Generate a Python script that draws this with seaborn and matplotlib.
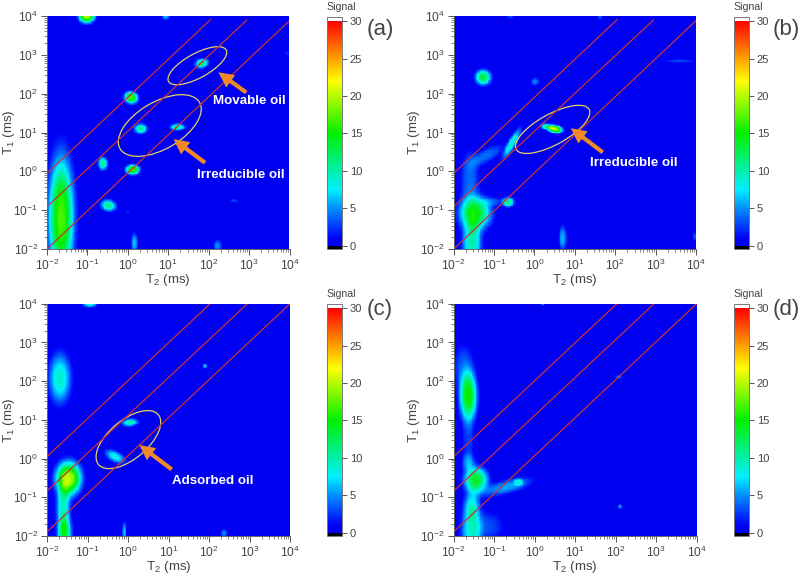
import numpy as np
import matplotlib
matplotlib.use("Agg")
import matplotlib.pyplot as plt
from matplotlib.colors import LinearSegmentedColormap
from matplotlib.patches import Ellipse
from matplotlib.transforms import Affine2D
import seaborn as sns

# T2-T1 maps: each peak is (log10 T2, log10 T1, spread along, spread across, height, tilt deg)
peaks_a = [
    (-1.65, -1.2, 0.16, 0.8, 17, 0), (-1.02, 4.0, 0.1, 0.09, 20, 0), (0.94, 3.98, 0.05, 0.04, 6, 0),
    (1.83, 2.78, 0.085, 0.06, 12, 15), (0.08, 1.9, 0.085, 0.075, 17, -20), (0.32, 1.1, 0.08, 0.065, 11, 0),
    (1.23, 1.14, 0.09, 0.045, 11, 0), (-0.62, 0.2, 0.06, 0.085, 11, 0), (0.12, 0.04, 0.085, 0.065, 17, 0),
    (-0.48, -0.88, 0.095, 0.075, 11, -15), (0.0, -1.04, 0.03, 0.03, 2.2, 0), (0.16, -1.85, 0.04, 0.13, 6.5, 0),
    (2.22, -1.92, 0.05, 0.08, 5, 0), (2.63, -0.76, 0.05, 0.03, 3, 0), (3.95, 3.04, 0.03, 0.03, 2.5, 0),
]
peaks_b = [
    (-1.27, 2.42, 0.1, 0.1, 13, 0), (0.01, 2.31, 0.05, 0.055, 4.5, 0), (0.85, 2.57, 0.02, 0.02, 2, 0),
    (3.6, 2.84, 0.2, 0.02, 3, 0), (-0.6, 3.98, 0.05, 0.03, 3, 0), (1.62, 3.97, 0.025, 0.03, 4, 0),
    (0.30, 1.15, 0.08, 0.04, 10, -10), (0.51, 1.09, 0.09, 0.05, 20, -10), (-0.56, 0.72, 0.22, 0.05, 9, 62),
    (-1.2, 0.4, 0.25, 0.09, 4, 30), (-1.6, -0.25, 0.12, 0.4, 4, 0), (-1.47, -1.08, 0.2, 0.22, 14, 0),
    (-1.55, -1.85, 0.12, 0.3, 10, 0), (-0.65, -0.79, 0.075, 0.065, 11, 0), (-1.05, -0.78, 0.15, 0.06, 3, 0),
    (0.7, -1.72, 0.05, 0.16, 6, 0), (3.97, -1.68, 0.03, 0.06, 3.5, 0),
]
peaks_c = [
    (-0.94, 3.99, 0.09, 0.04, 9, 0), (-1.68, 2.07, 0.14, 0.33, 9, 0), (-1.47, -0.51, 0.16, 0.22, 20, 0),
    (-1.6, -1.25, 0.09, 0.3, 9, 0), (-1.57, -1.95, 0.09, 0.22, 13, 0), (0.05, 0.93, 0.1, 0.05, 10, 5),
    (-0.32, 0.05, 0.14, 0.07, 8, -30), (1.9, 2.39, 0.03, 0.03, 7, 0), (2.29, -0.38, 0.02, 0.02, 3, 0),
    (-0.09, -1.89, 0.025, 0.13, 6, 0), (2.37, -1.93, 0.04, 0.06, 5, 0),
]
peaks_d = [
    (-1.64, 1.6, 0.11, 0.33, 15, 0), (-1.76, 2.37, 0.13, 0.3, 3.5, 0), (-1.64, 0.48, 0.08, 0.3, 2.5, 0),
    (-1.64, -0.1, 0.08, 0.12, 5, 0), (-1.45, -0.55, 0.15, 0.17, 14, 0), (-0.69, -0.73, 0.33, 0.09, 5.5, 15),
    (-0.4, -0.61, 0.06, 0.05, 5, 0), (-1.55, -1.2, 0.1, 0.2, 6, 0), (-1.56, -1.85, 0.13, 0.35, 8.5, 0),
    (-1.15, -1.75, 0.2, 0.2, 3, 0), (0.2, 4.0, 0.025, 0.025, 7, 0), (2.07, 2.11, 0.05, 0.03, 4, 0),
    (2.11, -1.24, 0.03, 0.03, 6, 0), (1.04, -0.94, 0.02, 0.02, 1, 0),
]

# Diagonal guide lines: (T2 start, T1 start, T2 end, T1 end) in decades
lines_top = [(-2, -0.05, 2.05, 3.91), (-2, -0.91, 2.95, 3.90), (-2, -2.0, 4.0, 3.88)]
lines_bottom = [(-2, 0.05, 2.03, 4.0), (-2, -0.84, 2.95, 4.0), (-2, -1.89, 4.0, 4.0)]

# Ellipses: (centre T2, centre T1, semi-major, semi-minor, angle)
ellipses_a = [(1.72, 2.72, 0.82, 0.31, 30), (0.79, 1.18, 1.15, 0.60, 32)]
ellipses_b = [(0.45, 1.08, 1.04, 0.39, 30)]
ellipses_c = [(0.01, 0.49, 0.98, 0.49, 42)]

# Arrows: (tail T2, tail T1, tip T2, tip T1)
arrows_a = [(2.93, 2.03, 2.24, 2.55), (1.91, 0.22, 1.13, 0.83)]
arrows_b = [(1.69, 0.49, 0.90, 1.11)]
arrows_c = [(1.08, -0.28, 0.28, 0.35)]

# Region labels: (T2, T1, text)
notes_a = [(3.0, 1.81, "Movable oil"), (2.80, -0.09, "Irreducible oil")]
notes_b = [(2.46, 0.22, "Irreducible oil")]
notes_c = [(2.09, -0.58, "Adsorbed oil")]

panel_tags = ["(a)", "(b)", "(c)", "(d)"]
decades = [-2, -1, 0, 1, 2, 3, 4]
signal_ticks = [0, 5, 10, 15, 20, 25, 30]
SIGNAL_MIN, SIGNAL_MAX = -0.45, 30.6

GRID = 300
PEAK_WIDTH = 1.3
PEAK_SHAPE = 1.3
TEXT = "#444444"
ORANGE = "#ee8a2a"

sns.set_theme(style="ticks", font="Liberation Sans")
plt.rcParams.update({
    "mathtext.fontset": "custom", "mathtext.rm": "Liberation Sans", "mathtext.default": "regular",
    "text.color": TEXT, "axes.labelcolor": TEXT, "xtick.color": "#555555", "ytick.color": "#555555",
    "xtick.labelcolor": TEXT, "ytick.labelcolor": TEXT,
})


def signal_cmap():
    stops = [(SIGNAL_MIN, "#000000"), (-0.06, "#000000"), (-0.04, "#0000f0"), (1.0, "#0000f8"),
             (5.0, "#0090ff"), (7.5, "#00f0ff"), (15.0, "#00f000"), (22.0, "#ffff00"), (30.0, "#ff0000"),
             (30.02, "#ffffff"), (SIGNAL_MAX, "#ffffff")]
    span = SIGNAL_MAX - SIGNAL_MIN
    return LinearSegmentedColormap.from_list(
        "signal", [((v - SIGNAL_MIN) / span, c) for v, c in stops], N=2048)


def field(peaks):
    # Flat-topped peaks on a regular log10 grid running from 10^-2 to 10^4 on both axes
    centres = -2 + (np.arange(GRID) + 0.5) * 6 / GRID
    x, y = np.meshgrid(centres, centres)
    z = np.zeros_like(x)
    for px, py, sa, sb, height, tilt in peaks:
        t = np.deg2rad(tilt)
        u = ((x - px) * np.cos(t) + (y - py) * np.sin(t)) / (sa * PEAK_WIDTH)
        v = (-(x - px) * np.sin(t) + (y - py) * np.cos(t)) / (sb * PEAK_WIDTH)
        z += height * np.exp(-(0.5 * (u ** 2 + v ** 2)) ** PEAK_SHAPE)
    return z


def decade_ticks(axis):
    to_index = lambda d: (d + 2) * GRID / 6
    labels = ["$10^{%d}$" % d for d in decades]
    axis.set_ticks([to_index(d) for d in decades], labels, rotation=0)
    minor = [k + np.log10(m) for k in decades[:-1] for m in range(2, 10)]
    axis.set_ticks([to_index(d) for d in minor], minor=True)


def draw_panel(rect, cbar_rect, tag, peaks, lines, ellipses, arrows, notes, tag_xy, ylab_x):
    ax = fig.add_axes([rect[0] / W, 1 - rect[3] / H, (rect[2] - rect[0]) / W, (rect[3] - rect[1]) / H])
    cax = fig.add_axes([cbar_rect[0] / W, 1 - cbar_rect[3] / H,
                        (cbar_rect[2] - cbar_rect[0]) / W, (cbar_rect[3] - cbar_rect[1]) / H])
    sns.heatmap(field(peaks), ax=ax, cbar_ax=cax, cmap=signal_cmap(),
                vmin=SIGNAL_MIN, vmax=SIGNAL_MAX, xticklabels=False, yticklabels=False)
    ax.invert_yaxis()
    decade_ticks(ax.xaxis)
    decade_ticks(ax.yaxis)
    ax.tick_params(which="major", length=4, width=0.7, labelsize=8.6, pad=2.5)
    ax.tick_params(which="minor", length=2.2, width=0.5)
    for side in ("left", "bottom"):
        ax.spines[side].set_visible(True)
        ax.spines[side].set_color("#666666")
        ax.spines[side].set_linewidth(0.7)

    ax.set_xlabel("$T_2$ (ms)", fontsize=9.6)
    ax.set_ylabel("$T_1$ (ms)", fontsize=9.6)
    ax.xaxis.set_label_coords(0.5, -23 / (rect[3] - rect[1]))
    ax.yaxis.set_label_coords((ylab_x - rect[0]) / (rect[2] - rect[0]), 0.5)

    to_ax = Affine2D().translate(2, 2).scale(GRID / 6) + ax.transData
    for x0, y0, x1, y1 in lines:
        ax.plot([x0, x1], [y0, y1], color="#c8323c", lw=0.9, transform=to_ax)
    for cx, cy, a, b, ang in ellipses:
        ax.add_patch(Ellipse((cx, cy), 2 * a, 2 * b, angle=ang, fill=False,
                             ec="#e6d060", lw=0.9, transform=to_ax))
    for x0, y0, x1, y1 in arrows:
        ax.annotate("", xy=(x1, y1), xytext=(x0, y0), xycoords=to_ax, textcoords=to_ax,
                    arrowprops=dict(facecolor=ORANGE, edgecolor="none", width=3, headwidth=11,
                                    headlength=11, shrink=0))
    for x, y, note in notes:
        ax.text(x, y, note, color="white", fontsize=9.6, fontweight="bold",
                ha="center", va="center", transform=to_ax)

    cb = ax.collections[0].colorbar
    cb.set_ticks(signal_ticks)
    cb.outline.set_visible(True)
    cb.outline.set_edgecolor("#777777")
    cb.outline.set_linewidth(0.7)
    cb.ax.tick_params(length=3.5, width=0.7, labelsize=8, pad=2, color="#555555", labelcolor=TEXT)
    fig.text(((cbar_rect[0] + cbar_rect[2]) / 2 + 7) / W, 1 - (cbar_rect[1] - 9.5) / H, "Signal",
             fontsize=7.6, ha="center", va="center", color=TEXT)
    fig.text(tag_xy[0] / W, 1 - tag_xy[1] / H, tag, fontsize=16, ha="center", va="center", color=TEXT)


W, H = 800, 576
fig = plt.figure(figsize=(W / 100, H / 100), dpi=100, facecolor="white")

draw_panel((47, 16, 289.5, 249), (326.7, 16.7, 342, 249), panel_tags[0], peaks_a,
           lines_top, ellipses_a, arrows_a, notes_a, (380, 30), 17)
draw_panel((453.7, 16, 696, 249), (733.7, 16.7, 749, 249), panel_tags[1], peaks_b,
           lines_top, ellipses_b, arrows_b, notes_b, (786, 30), 422)
draw_panel((47, 303.7, 290, 536), (327, 303.7, 342, 536), panel_tags[2], peaks_c,
           lines_bottom, ellipses_c, arrows_c, notes_c, (380, 309), 17)
draw_panel((453.7, 303.7, 696.7, 536), (734, 303.7, 749, 536), panel_tags[3], peaks_d,
           lines_bottom, [], [], [], (786, 309), 422)

fig.savefig("out.png", dpi=100)
